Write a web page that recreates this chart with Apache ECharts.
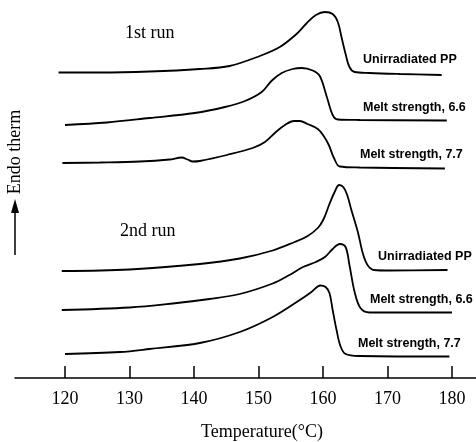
<!DOCTYPE html>
<html>
<head>
<meta charset="utf-8">
<script src="https://cdn.jsdelivr.net/npm/echarts@6/dist/echarts.min.js"></script>
<style>
  html, body { margin: 0; padding: 0; background: #fff; }
  #chart { width: 476px; height: 442px; }
</style>
</head>
<body>
<div id="chart"></div>
<script>
// temperature ticks (°C)
const tickValues = [120, 130, 140, 150, 160, 170, 180]

// DSC traces, [temperature, signal] - signal in arbitrary units (curves are stacked)
const run1Unirradiated = [
  [119.0, 305.5], [125.4, 305.5], [133.1, 306.5], [140.9, 309], [145.5, 312],
  [150.2, 322], [153.3, 331], [155.9, 344], [157.5, 355], [158.9, 363],
  [160.3, 366], [161.5, 364], [162.3, 356], [162.9, 340], [163.5, 324],
  [164.1, 311], [164.9, 306], [167.2, 305], [171.9, 304], [178.4, 303]
]
const run1Melt66 = [
  [120.0, 253], [126.5, 255.5], [133.1, 260], [140.1, 265], [144.8, 271],
  [147.9, 277], [150.5, 286], [152.0, 297], [153.6, 305], [155.3, 309],
  [156.7, 310], [158.4, 307.5], [159.5, 302], [160.6, 281], [161.5, 263],
  [162.3, 258.5], [165.7, 258], [179.2, 257.5]
]
const run1Melt77 = [
  [119.6, 215], [125.4, 215.5], [131.6, 216.5], [136.2, 218.5], [138.1, 220.5],
  [139.0, 218.5], [139.8, 216.5], [140.9, 217], [145.1, 223], [149.1, 230],
  [151.0, 236], [152.7, 246], [154.1, 253], [155.5, 257], [156.4, 257],
  [157.6, 254], [159.2, 249], [160.1, 242], [160.9, 233], [161.7, 220],
  [162.6, 211.5], [165.7, 210.5], [178.9, 209.5]
]
const run2Unirradiated = [
  [119.5, 107], [130.0, 108.5], [140.9, 114], [147.1, 119.5], [152.2, 127.5],
  [155.6, 136], [157.5, 141.5], [159.2, 150], [160.1, 159], [161.0, 174],
  [161.8, 186], [162.5, 193], [163.2, 190.5], [163.8, 182], [164.4, 168],
  [165.4, 146], [166.2, 124], [166.9, 113], [167.9, 108], [170.3, 107.5],
  [179.3, 108]
]
const run2Melt66 = [
  [119.5, 68], [130.0, 70.5], [136.7, 74.5], [142.4, 79], [147.1, 84],
  [152.2, 94.5], [154.8, 103], [156.9, 111], [158.9, 116], [160.3, 121],
  [161.5, 129], [162.6, 134], [163.5, 131], [164.1, 113], [164.9, 86],
  [165.8, 70], [167.2, 65.5], [180.0, 65.5]
]
const run2Melt77 = [
  [120.0, 24], [128.5, 26], [133.1, 29], [140.9, 35], [147.1, 46],
  [152.2, 61], [156.4, 78], [158.2, 86], [159.6, 92.5], [160.4, 91],
  [161.0, 85], [161.5, 68], [162.1, 48], [162.7, 32], [163.5, 24],
  [165.7, 22], [179.6, 21.5]
]

const traceNames = [
  'Unirradiated PP', 'Melt strength, 6.6', 'Melt strength, 7.7',
  'Unirradiated PP', 'Melt strength, 6.6', 'Melt strength, 7.7'
]
const traces = [run1Unirradiated, run1Melt66, run1Melt77, run2Unirradiated, run2Melt66, run2Melt77]

const serif = '"Liberation Serif", "DejaVu Serif", serif'
const sans = '"Liberation Sans", Arial, sans-serif'

const chart = echarts.init(document.getElementById('chart'))

// curve label positions (left, middle), next to the flat tail of each trace
const labelPos = [[363, 60], [363, 108], [360, 155], [378, 257], [370, 300], [358, 344]]

const graphics = [
  { type: 'text', left: 125, top: 24, style: { text: '1st run', font: '18px ' + serif, fill: '#000' } },
  { type: 'text', left: 120, top: 222, style: { text: '2nd run', font: '18px ' + serif, fill: '#000' } },
  {
    type: 'text', x: 15, y: 152, rotation: Math.PI / 2,
    style: { text: 'Endo therm', font: '18px ' + serif, fill: '#000', align: 'center', verticalAlign: 'middle' }
  },
  // arrow under the y label
  { type: 'line', shape: { x1: 15, y1: 255, x2: 15, y2: 210 }, style: { stroke: '#000', lineWidth: 1.5 } },
  { type: 'polygon', shape: { points: [[15, 199], [11, 213], [19, 213]] }, style: { fill: '#000' } },
  {
    type: 'text', x: 262, y: 432,
    style: { text: 'Temperature(°C)', font: '18px ' + serif, fill: '#000', align: 'center', verticalAlign: 'middle' }
  }
]
traceNames.forEach((name, i) => {
  graphics.push({
    type: 'text', x: labelPos[i][0], y: labelPos[i][1],
    style: { text: name, font: 'bold 12.5px ' + sans, fill: '#000', verticalAlign: 'middle' }
  })
})

const option = {
  animation: false,
  grid: { left: 15, right: 0, top: 0, bottom: 64 },
  xAxis: {
    type: 'value',
    min: 112.25,
    max: 183.72,
    splitLine: { show: false },
    axisLine: { lineStyle: { color: '#000', width: 1.5 } },
    axisTick: { inside: true, length: 12, customValues: tickValues, lineStyle: { color: '#000', width: 1.5 } },
    axisLabel: { customValues: tickValues, margin: 12, color: '#000', fontSize: 18, fontFamily: serif }
  },
  yAxis: {
    type: 'value',
    min: 0,
    max: 378,
    show: false
  },
  series: traces.map((d, i) => ({
    name: traceNames[i] + i,
    type: 'line',
    data: d,
    smooth: 0.35,
    showSymbol: false,
    lineStyle: { color: '#000', width: 1.8 }
  })),
  graphic: graphics
}
chart.setOption(option)
</script>
</body>
</html>
